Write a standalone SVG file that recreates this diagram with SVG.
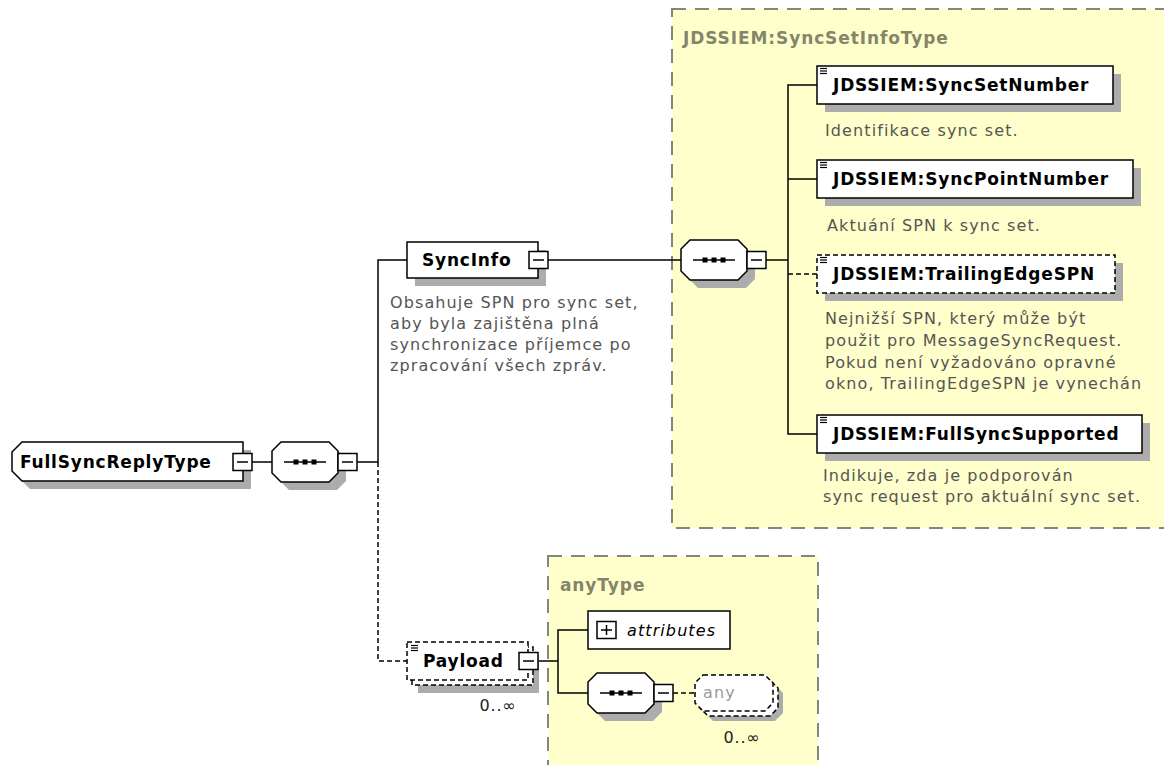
<svg xmlns="http://www.w3.org/2000/svg" xmlns:xlink="http://www.w3.org/1999/xlink" width="1164" height="765" viewBox="0 0 1164 765">
  <style>
    .panel { fill: #ffffcc; stroke: #858578; stroke-width: 2; stroke-dasharray: 14 9; }
    .box { fill: #ffffff; stroke: #000000; stroke-width: 1.5; }
    .dashed { stroke-dasharray: 5 3; }
    .shadow { fill: #acacac; stroke: none; }
    .conn { fill: none; stroke: #000000; stroke-width: 1.5; }
    .name { font-family: "DejaVu Sans", sans-serif; font-weight: bold; font-size: 17px; letter-spacing: 0.8px; fill: #000000; }
    .desc { font-family: "DejaVu Sans", sans-serif; font-size: 16px; letter-spacing: 1.1px; fill: #555555; }
    .tlabel { font-family: "DejaVu Sans", sans-serif; font-weight: bold; font-size: 17px; letter-spacing: 0.9px; fill: #85856a; }
    .occ { font-family: "DejaVu Sans", sans-serif; font-size: 16px; letter-spacing: 0.8px; fill: #222222; }
    .icon { stroke: #000000; stroke-width: 1.2; }
  </style>
  <defs>
    <!-- collapse button -->
    <g id="minus">
      <rect x="0" y="0" width="19" height="17" class="box"/>
      <line x1="4" y1="8.5" x2="15" y2="8.5" stroke="#000" stroke-width="1.5"/>
    </g>
    <!-- expand button -->
    <g id="plus">
      <rect x="0" y="0" width="19" height="17" class="box"/>
      <line x1="4" y1="8.5" x2="15" y2="8.5" stroke="#000" stroke-width="1.5"/>
      <line x1="9.5" y1="3.5" x2="9.5" y2="13.5" stroke="#000" stroke-width="1.5"/>
    </g>
    <!-- sequence compositor outline -->
    <path id="seqShape" d="M9,0 H57 L66,9 V31 L57,40 H9 L0,31 V9 Z"/>
    <g id="seq">
      <use xlink:href="#seqShape" x="8" y="8" class="shadow"/>
      <use xlink:href="#seqShape" class="box"/>
      <line x1="12" y1="20" x2="54" y2="20" stroke="#000" stroke-width="1.5"/>
      <rect x="21.5" y="17.5" width="5" height="5" fill="#000"/>
      <rect x="30.5" y="17.5" width="5" height="5" fill="#000"/>
      <rect x="39.5" y="17.5" width="5" height="5" fill="#000"/>
    </g>
    <!-- simple content marker -->
    <g id="lines">
      <line x1="0" y1="0.5" x2="7" y2="0.5" class="icon"/>
      <line x1="0" y1="3" x2="7" y2="3" class="icon"/>
      <line x1="0" y1="5.5" x2="7" y2="5.5" class="icon"/>
    </g>
  </defs>

  <rect width="1164" height="765" fill="#ffffff"/>

  <!-- type panels -->
  <g id="panel-syncsetinfotype">
    <rect x="672" y="9" width="520" height="519" class="panel"/>
    <text x="683" y="44" class="tlabel">JDSSIEM:SyncSetInfoType</text>
  </g>
  <g id="panel-anytype">
    <rect x="548" y="556" width="270" height="230" class="panel"/>
    <text x="560" y="591" class="tlabel">anyType</text>
  </g>

  <!-- connectors -->
  <g id="connectors">
    <path class="conn" d="M252,462 H272"/>
    <path class="conn" d="M357,462 H378 V260 H407"/>
    <path class="conn dashed" d="M378,462 V661 H407"/>
    <path class="conn" d="M548,260 H681"/>
    <path class="conn" d="M766,260 H788"/>
    <path class="conn" d="M817,85 H788 V434 H817"/>
    <path class="conn" d="M788,179 H817"/>
    <path class="conn dashed" d="M788,274 H817"/>
    <path class="conn" d="M538,661 H558"/>
    <path class="conn" d="M588,630 H558 V693 H588"/>
    <path class="conn dashed" d="M673,693 H695"/>
  </g>

  <!-- root complex type -->
  <g id="node-fullsyncreplytype">
    <path d="M30,450 H251 V489 H30 L20,479 V460 Z" class="shadow"/>
    <path d="M22,442 H243 V481 H22 L12,471 V452 Z" class="box"/>
    <text x="20" y="468" class="name">FullSyncReplyType</text>
    <use xlink:href="#minus" x="233" y="453.5"/>
  </g>

  <g id="node-seq-root">
    <use xlink:href="#seq" x="272" y="442"/>
    <use xlink:href="#minus" x="338" y="453.5"/>
  </g>

  <g id="node-syncinfo">
    <rect x="415" y="250" width="131" height="36" class="shadow"/>
    <rect x="407" y="242" width="131" height="36" class="box"/>
    <text x="422" y="266" class="name">SyncInfo</text>
    <use xlink:href="#minus" x="529" y="251.5"/>
    <text class="desc">
      <tspan x="390" y="308">Obsahuje SPN pro sync set,</tspan>
      <tspan x="390" y="329">aby byla zajištěna plná</tspan>
      <tspan x="390" y="350">synchronizace příjemce po</tspan>
      <tspan x="390" y="371">zpracování všech zpráv.</tspan>
    </text>
  </g>

  <g id="node-seq-syncset">
    <use xlink:href="#seq" x="681" y="240"/>
    <use xlink:href="#minus" x="747" y="251.5"/>
  </g>

  <g id="node-syncsetnumber">
    <rect x="825" y="74" width="296" height="38" class="shadow"/>
    <rect x="817" y="66" width="296" height="38" class="box"/>
    <use xlink:href="#lines" x="820" y="68"/>
    <text x="833" y="91" class="name">JDSSIEM:SyncSetNumber</text>
    <text x="825" y="136" class="desc">Identifikace sync set.</text>
  </g>

  <g id="node-syncpointnumber">
    <rect x="825" y="168" width="316" height="38" class="shadow"/>
    <rect x="817" y="160" width="316" height="38" class="box"/>
    <use xlink:href="#lines" x="820" y="162"/>
    <text x="833" y="185" class="name">JDSSIEM:SyncPointNumber</text>
    <text x="827" y="231" class="desc">Aktuání SPN k sync set.</text>
  </g>

  <g id="node-trailingedgespn">
    <rect x="825" y="263" width="298" height="38" class="shadow"/>
    <rect x="817" y="255" width="298" height="38" class="box dashed"/>
    <use xlink:href="#lines" x="820" y="257"/>
    <text x="833" y="280" class="name">JDSSIEM:TrailingEdgeSPN</text>
    <text class="desc">
      <tspan x="825" y="324">Nejnižší SPN, který může být</tspan>
      <tspan x="825" y="346">použit pro MessageSyncRequest.</tspan>
      <tspan x="825" y="368">Pokud není vyžadováno opravné</tspan>
      <tspan x="825" y="389">okno, TrailingEdgeSPN je vynechán</tspan>
    </text>
  </g>

  <g id="node-fullsyncsupported">
    <rect x="825" y="423" width="325" height="38" class="shadow"/>
    <rect x="817" y="415" width="325" height="38" class="box"/>
    <use xlink:href="#lines" x="820" y="417"/>
    <text x="833" y="440" class="name">JDSSIEM:FullSyncSupported</text>
    <text class="desc">
      <tspan x="823" y="481">Indikuje, zda je podporován</tspan>
      <tspan x="823" y="502">sync request pro aktuální sync set.</tspan>
    </text>
  </g>

  <g id="node-payload">
    <rect x="418" y="655" width="121" height="38" class="shadow"/>
    <rect x="412" y="647" width="121" height="38" class="box dashed"/>
    <rect x="407" y="642" width="121" height="38" class="box dashed"/>
    <use xlink:href="#lines" x="411" y="645"/>
    <text x="423" y="667" class="name">Payload</text>
    <use xlink:href="#minus" x="519" y="652.5"/>
    <text x="498" y="711" text-anchor="middle" class="occ">0..∞</text>
  </g>

  <g id="node-attributes">
    <rect x="588" y="611" width="142" height="38" class="box"/>
    <use xlink:href="#plus" x="597" y="621.5"/>
    <text x="627" y="636" class="desc" style="font-style:italic; fill:#000;">attributes</text>
  </g>

  <g id="node-seq-any">
    <use xlink:href="#seq" x="588" y="673"/>
    <use xlink:href="#minus" x="654" y="684.5"/>
  </g>

  <g id="node-any">
    <path d="M713,685 H775 L783,693 V713 L775,721 H713 L705,713 V693 Z" class="shadow"/>
    <path d="M708,680 H770 L778,688 V708 L770,716 H708 L700,708 V688 Z" class="box dashed"/>
    <path d="M703,675 H765 L773,683 V703 L765,711 H703 L695,703 V683 Z" class="box dashed"/>
    <text x="703" y="698" class="desc" style="fill:#9a9a9a;">any</text>
    <text x="742" y="743" text-anchor="middle" class="occ">0..∞</text>
  </g>
</svg>
